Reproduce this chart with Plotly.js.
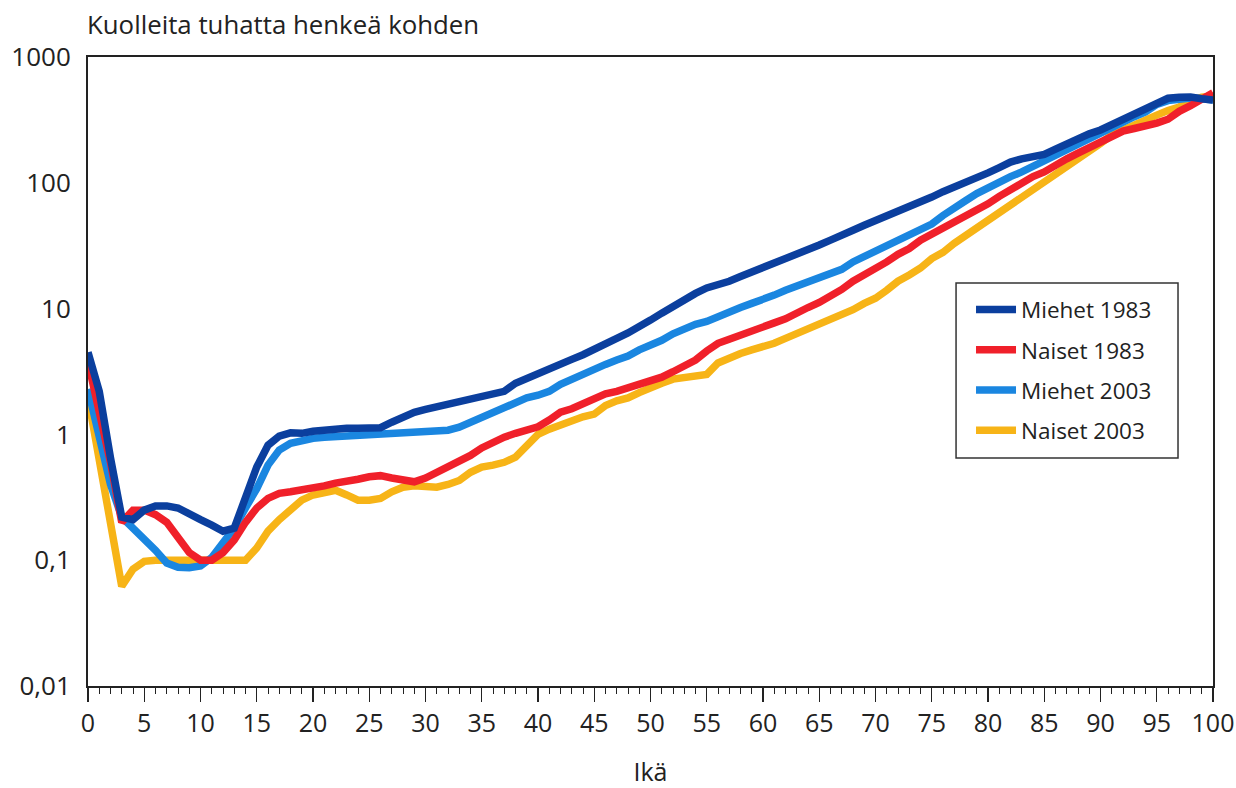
<!DOCTYPE html>
<html>
<head>
<meta charset="utf-8">
<script src="https://cdn.plot.ly/plotly-3.0.1.min.js"></script>
<style>html,body{margin:0;padding:0;background:#fff;}#chart{width:1236px;height:788px;}</style>
</head>
<body>
<div id="chart"></div>
<script>
var ages = [];
for (var a = 0; a <= 100; a++) ages.push(a);

var seriesNames = ["Miehet 1983", "Naiset 1983", "Miehet 2003", "Naiset 2003"];

var miehet1983 = [4.5,2.2,0.65,0.22,0.21,0.25,0.27,0.27,0.26,0.23,
0.21,0.19,0.17,0.18,0.32,0.55,0.82,0.97,1.03,1.02,
1.06,1.08,1.12,1.12,1.12,1.12,1.13,1.25,1.38,1.5,
1.58,1.65,1.75,1.82,1.9,2.0,2.08,2.2,2.55,2.8,
3.05,3.35,3.7,3.95,4.3,4.7,5.2,5.8,6.4,7.1,
8.1,9.2,10.5,12.0,13.2,14.6,15.3,16.5,18,19.5,
21,23,24.8,26.5,29,32,35,39,42,46,
50,54,58,64,70,77,85,92,100,110,
120,132,146,155,161,168,185,205,225,245,
263,290,320,350,390,440,470,478,480,465,455];

var naiset1983 = [3.8,1.6,0.6,0.2,0.25,0.25,0.23,0.2,0.15,0.115,
0.1,0.1,0.115,0.145,0.2,0.26,0.31,0.34,0.35,0.36,
0.37,0.39,0.41,0.42,0.44,0.46,0.47,0.45,0.43,0.42,
0.45,0.5,0.54,0.6,0.68,0.78,0.87,0.95,1.02,1.08,
1.15,1.3,1.5,1.6,1.75,1.95,2.1,2.2,2.34,2.45,
2.6,2.85,3.15,3.5,3.9,4.6,5.3,5.7,6.1,6.6,
7.1,7.7,8.3,9.3,10.2,11.2,12.5,14.2,16.5,18.5,
20.5,23.5,27,30,35,39,44,50,55,60,
68,78,88,100,112,122,135,155,172,190,
210,235,258,270,280,298,320,370,410,470,520];

var miehet2003 = [2.3,1.0,0.4,0.22,0.18,0.15,0.12,0.095,0.088,0.087,
0.09,0.105,0.14,0.18,0.26,0.37,0.57,0.75,0.85,0.9,
0.93,0.95,0.96,0.98,1.0,1.0,1.02,1.03,1.03,1.04,
1.04,1.04,1.08,1.14,1.25,1.38,1.5,1.62,1.8,1.95,
2.05,2.2,2.5,2.75,3.05,3.3,3.6,3.9,4.2,4.7,
5.1,5.6,6.3,7.0,7.5,7.9,8.5,9.3,10.2,11.0,
11.7,12.8,14.0,15.2,16.5,17.8,19,20.5,23.5,26,
28,31,35,38,42,47,55,64,72,82,
92,102,112,122,135,148,165,185,205,230,
255,280,305,335,365,420,450,468,472,465,455];

var naiset2003 = [2.0,0.65,0.2,0.062,0.085,0.098,0.1,0.1,0.1,0.1,
0.1,0.1,0.097,0.097,0.1,0.125,0.17,0.21,0.25,0.3,
0.33,0.35,0.36,0.33,0.3,0.3,0.31,0.35,0.38,0.39,
0.39,0.38,0.4,0.43,0.5,0.55,0.57,0.6,0.66,0.8,
1.0,1.1,1.2,1.3,1.38,1.45,1.7,1.85,1.95,2.15,
2.38,2.55,2.75,2.85,2.9,3.0,3.7,4.1,4.4,4.7,
4.95,5.3,5.8,6.3,7.0,7.7,8.3,8.8,9.8,11,
12.1,14,16.5,18.5,21,25,28,33,38,43,
50,57,66,76,88,100,115,133,150,175,
205,240,265,290,315,345,375,400,450,480,490];

var yTickVals = [1000, 100, 10, 1, 0.1, 0.01];
var yTickText = ["1000", "100", "10", "1", "0,1", "0,01"];
var xTickVals = [0,5,10,15,20,25,30,35,40,45,50,55,60,65,70,75,80,85,90,95,100];

var colors = {m83: "#0b3f9e", n83: "#f0202a", m03: "#1a86e0", n03: "#f7b417"};
var LW = 7.5;

var traces = [
  {x: ages, y: naiset2003, name: seriesNames[3], legendgroup: "g4", legendrank: 4, mode: "lines", line: {color: colors.n03, width: LW}},
  {x: ages, y: miehet2003, name: seriesNames[2], legendgroup: "g3", legendrank: 3, mode: "lines", line: {color: colors.m03, width: LW}},
  {x: ages, y: naiset1983, name: seriesNames[1], legendgroup: "g2", legendrank: 2, mode: "lines", line: {color: colors.n83, width: LW}},
  {x: ages, y: miehet1983, name: seriesNames[0], legendgroup: "g1", legendrank: 1, mode: "lines", line: {color: colors.m83, width: LW}}
];

var fontFam = "'Open Sans', 'Noto Sans', sans-serif";
var layout = {
  width: 1236, height: 788,
  margin: {l: 88, r: 23, t: 57, b: 102},
  paper_bgcolor: "#fff", plot_bgcolor: "#fff",
  font: {family: fontFam, color: "#222", size: 24},
  showlegend: true,
  legend: {
    x: 0.7849, y: 0.632, xanchor: "left", yanchor: "top",
    borderwidth: 0, bgcolor: "rgba(0,0,0,0)",
    font: {family: fontFam, size: 22.5, color: "#222"},
    itemwidth: 40, tracegroupgap: 8
  },
  shapes: [{
    type: "rect", xref: "paper", yref: "paper",
    x0: 0.7716, x1: 0.9689, y0: 0.3625, y1: 0.6407,
    line: {color: "#333", width: 1.5}, fillcolor: "#fff", layer: "above"
  }],
  xaxis: {
    range: [0, 100], tickmode: "array", tickvals: xTickVals,
    ticks: "outside", ticklen: 14, tickwidth: 1.2, tickcolor: "#222",
    minor: {dtick: 1, ticks: "outside", ticklen: 6, tickwidth: 1, tickcolor: "#222"},
    showline: true, linecolor: "#222", linewidth: 2, mirror: true,
    showgrid: false, zeroline: false,
    tickfont: {size: 25, color: "#222"},
    title: {text: "Ikä", font: {size: 25, color: "#222"}, standoff: 28}
  },
  yaxis: {
    type: "log", range: [-2, 3], tickmode: "array", tickvals: yTickVals, ticktext: yTickText,
    ticks: "", showline: true, linecolor: "#222", linewidth: 2, mirror: true,
    showgrid: false, zeroline: false, ticklabelstandoff: 10,
    tickfont: {size: 26, color: "#222"}
  },
  annotations: [{
    text: "Kuolleita tuhatta henkeä kohden", xref: "paper", yref: "paper",
    x: 0, y: 1, xanchor: "left", yanchor: "bottom", yshift: 13, xshift: -3, showarrow: false,
    font: {size: 25.8, color: "#222"}
  }]
};

Plotly.newPlot("chart", traces, layout, {staticPlot: true, displayModeBar: false});
</script>
</body>
</html>
